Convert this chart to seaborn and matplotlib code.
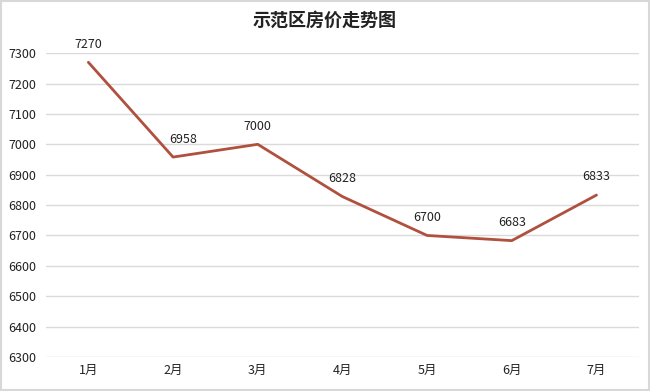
import matplotlib
matplotlib.use("Agg")
import matplotlib.pyplot as plt
import seaborn as sns
import pandas as pd
from matplotlib.patches import Rectangle

months = ["1月", "2月", "3月", "4月", "5月", "6月", "7月"]
prices = [7270, 6958, 7000, 6828, 6700, 6683, 6833]
yticks = [6300, 6400, 6500, 6600, 6700, 6800, 6900, 7000, 7100, 7200, 7300]
title = "示范区房价走势图"

sns.set_theme(style="white")
plt.rcParams['font.family'] = ['Noto Sans CJK SC', 'DejaVu Sans']

df = pd.DataFrame({"month": months, "price": prices})

fig = plt.figure(figsize=(6.5, 3.91), dpi=100)
ax = fig.add_axes([0.0708, 0.087, 0.912, 0.777])

ax.set_yticks(yticks)
for y in yticks:
    ax.axhline(y, color="#dadada", lw=1.0, zorder=0)

sns.lineplot(data=df, x="month", y="price", sort=False, ax=ax,
             color="#b0503f", lw=2.0, zorder=3)

ax.set_xlim(-0.5, 6.5)
ax.set_ylim(6300, 7300)
ax.set_xlabel("")
ax.set_ylabel("")
for s in ax.spines.values():
    s.set_visible(False)
ax.tick_params(axis="both", length=0, labelsize=9, colors="#222222")
ax.tick_params(axis="y", pad=7)
ax.tick_params(axis="x", pad=5)

for i, v in enumerate(prices):
    dx = 7 if i == 1 else 0
    ax.annotate(str(v), (i, v), xytext=(dx, 13), textcoords="offset points",
                ha="center", va="center", fontsize=9, color="#222222",
                annotation_clip=False)

fig.text(0.5, 0.948, title, ha="center", va="center", fontsize=13,
         fontweight="bold", color="#222222")

fig.patches.append(Rectangle((0.001, 0.002), 0.997, 0.996, transform=fig.transFigure,
                             fill=False, edgecolor="#d8d8d8", lw=1.5))

fig.savefig("out.png", dpi=100)
